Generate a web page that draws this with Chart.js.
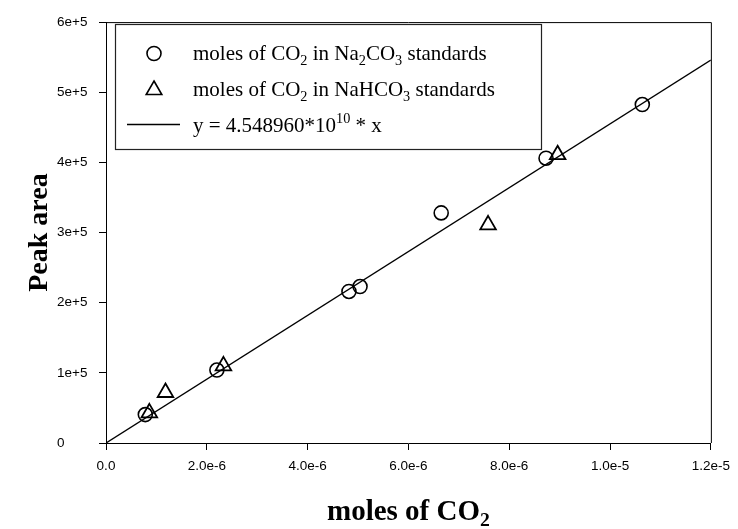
<!DOCTYPE html>
<html>
<head>
<meta charset="utf-8">
<script src="https://cdn.jsdelivr.net/npm/chart.js@4/dist/chart.umd.min.js"></script>
<style>
  html, body { margin: 0; padding: 0; background: #fff; }
  #wrap { width: 738px; height: 529px; position: relative; }
</style>
</head>
<body>
<div id="wrap"><canvas id="c" width="738" height="529"></canvas></div>
<script>
// Calibration standards: moles of CO2 vs. integrated peak area
const na2co3Moles = [0.78e-6, 2.20e-6, 4.82e-6, 5.04e-6, 6.65e-6, 8.73e-6, 10.64e-6];
const na2co3Area  = [40500, 104000, 216000, 223000, 328000, 406000, 482500];

const nahco3Moles = [0.86e-6, 1.18e-6, 2.33e-6, 7.58e-6, 8.96e-6];
const nahco3Area  = [43000, 72000, 110000, 311000, 411000];

// Least-squares slope through the origin (peak area per mole)
const fitSlope = 4.548960e10;
const fitRange = [0, 1.2e-5];

const xTickLabels = ['0.0', '2.0e-6', '4.0e-6', '6.0e-6', '8.0e-6', '1.0e-5', '1.2e-5'];
const yTickLabels = ['0', '1e+5', '2e+5', '3e+5', '4e+5', '5e+5', '6e+5'];

const legendLabels = [
  [['moles of CO', 0], ['2', 1], [' in Na', 0], ['2', 1], ['CO', 0], ['3', 1], [' standards', 0]],
  [['moles of CO', 0], ['2', 1], [' in NaHCO', 0], ['3', 1], [' standards', 0]],
  [['y = 4.548960*10', 0], ['10', 2], [' * x', 0]]
];
const xTitle = [['moles of CO', 0], ['2', 1]];
const yTitle = 'Peak area';

const SERIF = '"Liberation Serif", "Times New Roman", serif';
const SANS = '"Liberation Sans", Arial, sans-serif';

// Draw a run of text pieces: mode 0 = normal, 1 = subscript, 2 = superscript
function richWidth(ctx, parts, size, weight) {
  let w = 0;
  for (const [t, m] of parts) {
    const s = m === 0 ? size : size * 0.68;
    ctx.font = `${weight} ${s}px ${SERIF}`;
    w += ctx.measureText(t).width;
  }
  return w;
}
function drawRich(ctx, x, y, parts, size, weight) {
  let cx = x;
  ctx.textBaseline = 'alphabetic';
  ctx.textAlign = 'left';
  for (const [t, m] of parts) {
    const s = m === 0 ? size : size * 0.68;
    ctx.font = `${weight} ${s}px ${SERIF}`;
    const dy = m === 1 ? size * 0.22 : (m === 2 ? -size * 0.42 : 0);
    ctx.fillText(t, cx, y + dy);
    cx += ctx.measureText(t).width;
  }
}

const decorations = {
  id: 'decorations',
  afterDraw(chart) {
    const { ctx, chartArea: a } = chart;
    ctx.save();
    ctx.fillStyle = '#000';
    ctx.strokeStyle = '#000';

    // top and right edges of the frame
    ctx.lineWidth = 1;
    ctx.beginPath();
    ctx.moveTo(a.left, a.top + 0.5);
    ctx.lineTo(a.right + 0.5, a.top + 0.5);
    ctx.lineTo(a.right + 0.5, a.bottom);
    ctx.stroke();

    // axis titles
    const xs = 29;
    const xw = richWidth(ctx, xTitle, xs, 'bold');
    drawRich(ctx, (a.left + a.right) / 2 - xw / 2, 520, xTitle, xs, 'bold');

    ctx.save();
    ctx.translate(47, (a.top + a.bottom) / 2);
    ctx.rotate(-Math.PI / 2);
    ctx.font = `bold 28px ${SERIF}`;
    ctx.textAlign = 'center';
    ctx.textBaseline = 'alphabetic';
    ctx.fillText(yTitle, 0, 0);
    ctx.restore();

    // legend box
    const lx = 115, ly = 24, lw = 426, lh = 125;
    ctx.fillStyle = '#fff';
    ctx.fillRect(lx, ly, lw, lh);
    ctx.lineWidth = 1.2;
    ctx.strokeStyle = '#222';
    ctx.strokeRect(lx + 0.5, ly + 0.5, lw, lh);

    ctx.fillStyle = '#000';
    ctx.strokeStyle = '#000';
    const baselines = [60, 96, 132];
    const mx = 154;
    // circle
    ctx.lineWidth = 1.6;
    ctx.beginPath();
    ctx.arc(mx, 53.5, 7, 0, Math.PI * 2);
    ctx.stroke();
    // triangle
    const tr = 9, ty = 90;
    ctx.beginPath();
    ctx.moveTo(mx, ty - tr);
    ctx.lineTo(mx + tr * Math.sqrt(3) / 2, ty + tr / 2);
    ctx.lineTo(mx - tr * Math.sqrt(3) / 2, ty + tr / 2);
    ctx.closePath();
    ctx.stroke();
    // line
    ctx.lineWidth = 1.3;
    ctx.beginPath();
    ctx.moveTo(127, 124.5);
    ctx.lineTo(180, 124.5);
    ctx.stroke();

    legendLabels.forEach((parts, i) => drawRich(ctx, 193, baselines[i], parts, 21, 'normal'));
    ctx.restore();
  }
};

new Chart(document.getElementById('c'), {
  type: 'scatter',
  data: {
    datasets: [
      {
        type: 'line',
        label: 'fit',
        data: fitRange.map(x => ({ x, y: fitSlope * x })),
        borderColor: '#000',
        borderWidth: 1.4,
        pointRadius: 0,
        fill: false,
        order: 3
      },
      {
        label: 'Na2CO3',
        data: na2co3Moles.map((x, i) => ({ x, y: na2co3Area[i] })),
        pointStyle: 'circle',
        pointRadius: 7,
        pointBorderWidth: 1.6,
        borderColor: '#000',
        backgroundColor: 'rgba(0,0,0,0)',
        order: 1
      },
      {
        label: 'NaHCO3',
        data: nahco3Moles.map((x, i) => ({ x, y: nahco3Area[i] })),
        pointStyle: 'triangle',
        pointRadius: 9,
        pointBorderWidth: 1.8,
        borderColor: '#000',
        backgroundColor: 'rgba(0,0,0,0)',
        order: 2
      }
    ]
  },
  options: {
    responsive: false,
    animation: false,
    layout: { padding: { top: 20, right: 26, left: 57, bottom: 0 } },
    plugins: { legend: { display: false }, tooltip: { enabled: false } },
    scales: {
      x: {
        type: 'linear',
        min: 0,
        max: 1.2e-5,
        afterFit(s) { s.height = 86; },
        afterBuildTicks(s) { s.ticks = xTickLabels.map((_, i) => ({ value: i * 2e-6 })); },
        ticks: {
          color: '#000',
          font: { family: SANS, size: 13.5 },
          padding: 8,
          maxRotation: 0,
          autoSkip: false,
          callback: (v, i) => xTickLabels[i]
        },
        grid: { drawOnChartArea: false, tickLength: 7, color: '#000', tickColor: '#000' },
        border: { color: '#000', width: 1 }
      },
      y: {
        min: 0,
        max: 6e5,
        afterFit(s) { s.width = 49; },
        afterBuildTicks(s) { s.ticks = yTickLabels.map((_, i) => ({ value: i * 1e5 })); },
        ticks: {
          color: '#000',
          font: { family: SANS, size: 13.5 },
          padding: 14,
          crossAlign: 'far',
          autoSkip: false,
          callback: (v, i) => yTickLabels[i]
        },
        grid: { drawOnChartArea: false, tickLength: 7, color: '#000', tickColor: '#000' },
        border: { color: '#000', width: 1 }
      }
    }
  },
  plugins: [decorations]
});
</script>
</body>
</html>
